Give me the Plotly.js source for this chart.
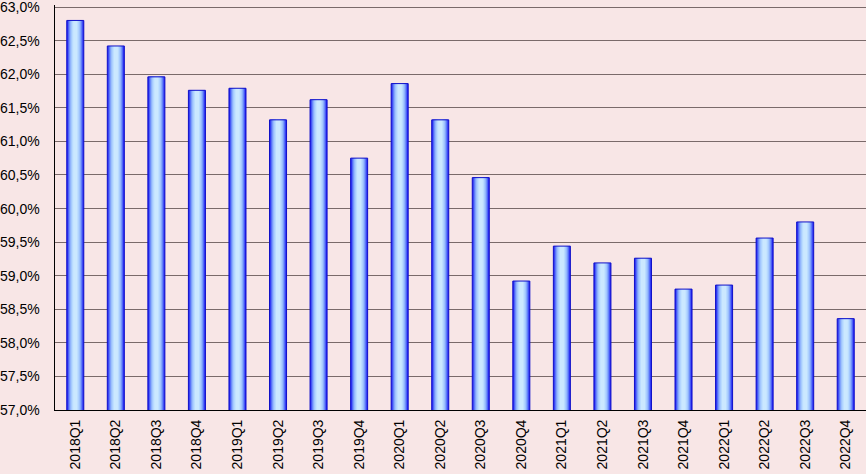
<!DOCTYPE html>
<html>
<head>
<meta charset="utf-8">
<script src="https://cdn.plot.ly/plotly-3.0.1.min.js"></script>
<style>html,body{margin:0;padding:0;background:#F8E6E6;}#chart{width:866px;height:474px;}</style>
</head>
<body>
<div id="chart"></div>
<script>
const categories = ["2018Q1","2018Q2","2018Q3","2018Q4","2019Q1","2019Q2","2019Q3","2019Q4","2020Q1","2020Q2","2020Q3","2020Q4","2021Q1","2021Q2","2021Q3","2021Q4","2022Q1","2022Q2","2022Q3","2022Q4"];
const values = [62.80,62.42,61.96,61.76,61.79,61.32,61.62,60.75,61.86,61.32,60.46,58.92,59.44,59.19,59.26,58.80,58.86,59.56,59.80,58.36];
const yTickVals = [57.0,57.5,58.0,58.5,59.0,59.5,60.0,60.5,61.0,61.5,62.0,62.5,63.0];
const yTickText = ["57,0%","57,5%","58,0%","58,5%","59,0%","59,5%","60,0%","60,5%","61,0%","61,5%","62,0%","62,5%","63,0%"];

const layers = [
  {w:0.42, c:'#2222F2'},
  {w:0.37, c:'#4658F6'},
  {w:0.32, c:'#6A8AFA'},
  {w:0.27, c:'#8CAFFC'},
  {w:0.22, c:'#A6CAFE'},
  {w:0.16, c:'#BADCFF'},
  {w:0.10, c:'#CBE8FF'}
];
const traces = layers.map(l => ({
  type:'bar', x:categories, y:values, width:l.w,
  marker:{color:l.c, line:{width:0}}, hoverinfo:'skip', showlegend:false
}));
traces.push({
  type:'bar', x:categories, y:values, width:0.42,
  marker:{color:'rgba(0,0,0,0)', line:{color:'#1010C8', width:1}}, hoverinfo:'skip', showlegend:false
});

const fontFam = 'Liberation Sans, Arial, sans-serif';
// y tick labels drawn as annotations at the tick values (the top one is otherwise dropped at the page edge)
const yLabelAnnots = yTickVals.map((v, i) => ({
  xref:'paper', yref:'y', x:0, y:v, text:yTickText[i],
  showarrow:false, xanchor:'right', yanchor:'middle', xshift:-13,
  font:{size:14, family:fontFam, color:'#000'}
}));

const layout = {
  width:866, height:474,
  margin:{l:55, r:0, t:5, b:64},
  paper_bgcolor:'#F8E6E6', plot_bgcolor:'#F8E6E6',
  barmode:'overlay',
  font:{family:fontFam, size:14, color:'#000'},
  annotations: yLabelAnnots,
  xaxis:{
    type:'category', tickangle:-90, showgrid:false,
    showline:true, linecolor:'#000', linewidth:1,
    ticks:'outside', ticklen:3, tickcolor:'rgba(0,0,0,0)',
    tickfont:{size:14, family:fontFam},
    range:[-0.5, categories.length-0.5]
  },
  yaxis:{
    range:[57,63.03], tickmode:'array', tickvals:yTickVals, showticklabels:false,
    showgrid:true, gridcolor:'#7A6A6A', gridwidth:1,
    showline:true, linecolor:'#000', linewidth:1, ticks:'',
    zeroline:false
  }
};
Plotly.newPlot('chart', traces, layout, {staticPlot:true, displayModeBar:false});
</script>
</body>
</html>
